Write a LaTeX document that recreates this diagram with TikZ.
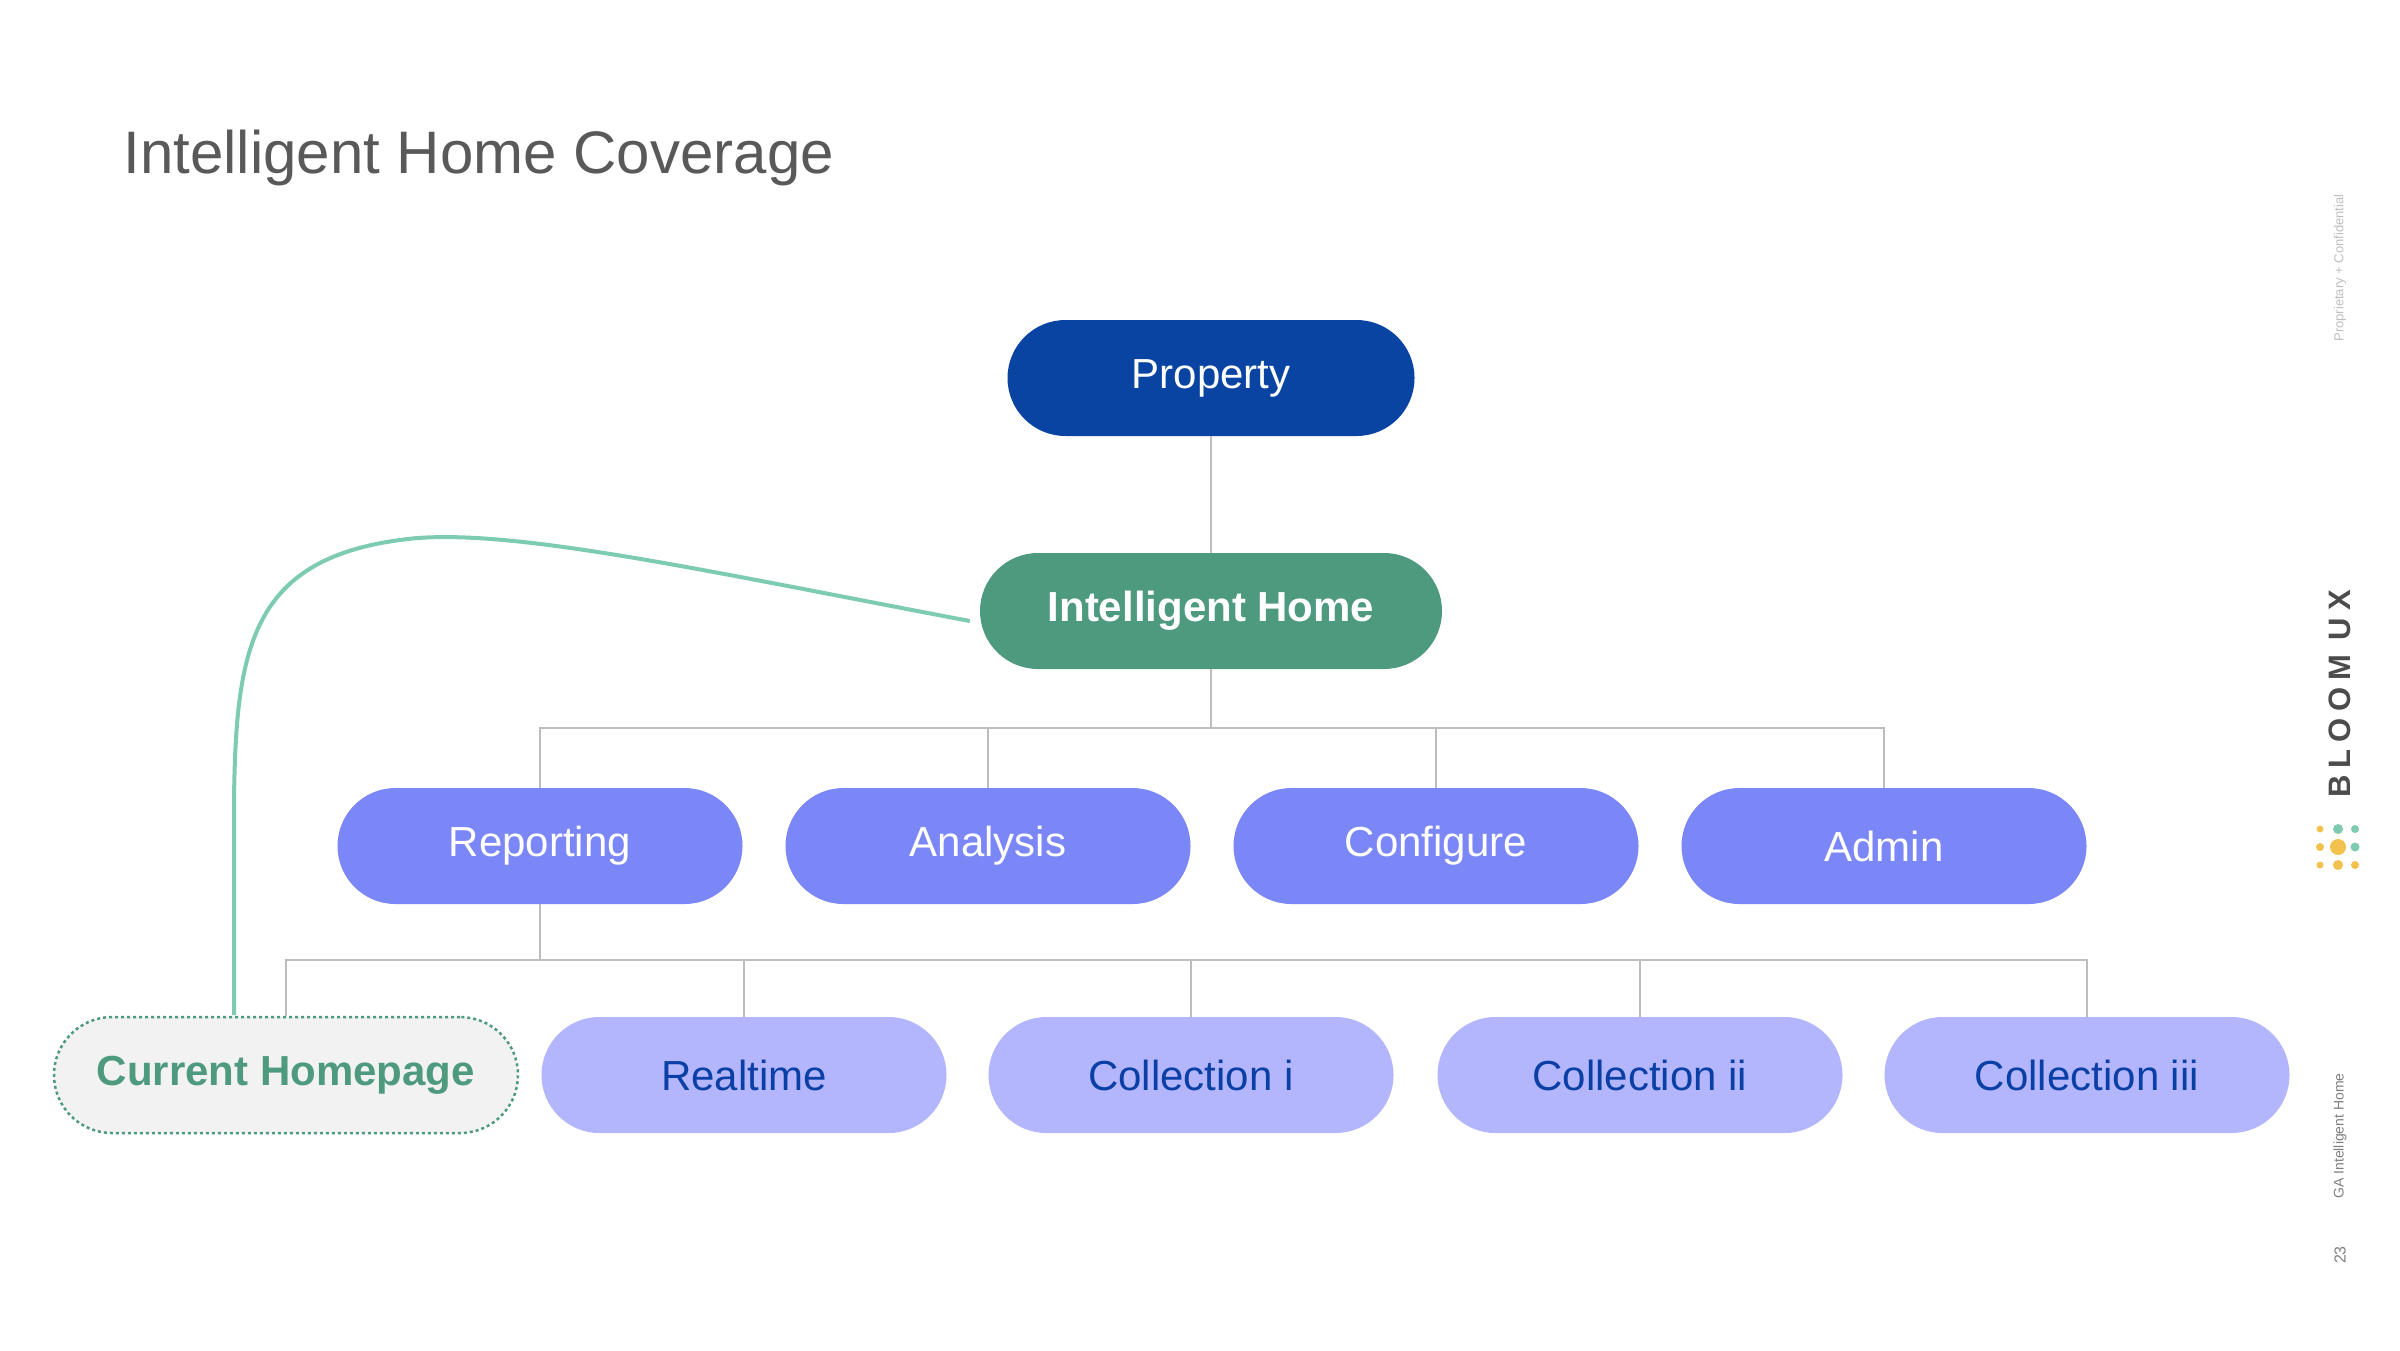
\documentclass[tikz,border=0pt]{standalone}
\usepackage{fontspec}
\setmainfont{Liberation Sans}
\begin{document}
\begin{tikzpicture}[x=1pt,y=-1pt,
 pill/.style={rounded corners=58pt,minimum height=116pt,inner sep=0pt,font=\fontsize{42}{50}\selectfont},
 top/.style={pill,fill=c1,text=white,minimum width=407pt},
 mid/.style={pill,fill=c2,text=white,minimum width=462pt,font=\fontsize{42}{50}\selectfont\bfseries},
 lvtwo/.style={pill,fill=c3,text=white,minimum width=405pt},
 lvthree/.style={pill,fill=c4,text=c5,minimum width=405pt},
 link/.style={draw=cl,line width=2.5pt}]
\definecolor{c1}{HTML}{0A44A3}
\definecolor{c2}{HTML}{4E9A7E}
\definecolor{c3}{HTML}{7B87F7}
\definecolor{c4}{HTML}{B3B6FC}
\definecolor{c5}{HTML}{0A3FA6}
\definecolor{cl}{HTML}{BDBDBD}
\definecolor{cg}{HTML}{7DCBB0}
\definecolor{cy}{HTML}{F2C14E}
\useasboundingbox (0,0) rectangle (2400,1350);
\fill[white] (0,0) rectangle (2400,1350);
\node[anchor=west,text=black!65,font=\fontsize{60}{70}\selectfont] (title) at (120,158) {Intelligent Home Coverage};
\node[top] (prop) at (1211,378) {Property};
\node[mid] (ih) at (1211,611) {Intelligent Home};
\node[lvtwo] (rep) at (540,846) {Reporting};
\node[lvtwo] (ana) at (988,846) {Analysis};
\node[lvtwo] (con) at (1436,846) {Configure};
\node[lvtwo] (adm) at (1884,846) {Admin};
\node[pill,minimum width=464pt,fill=black!5,draw=c2,dashed,line width=2.5pt,text=c2,font=\fontsize{42}{50}\selectfont\bfseries] (cur) at (286,1075) {Current Homepage};
\node[lvthree] (rt) at (744,1075) {Realtime};
\node[lvthree] (ci) at (1191,1075) {Collection i};
\node[lvthree] (cii) at (1640,1075) {Collection ii};
\node[lvthree] (ciii) at (2087,1075) {Collection iii};
\draw[link] (prop) -- (ih);
\coordinate (b1) at (1211,728);
\draw[link] (ih) -- (b1);
\draw[link] (rep.north) |- (b1) -| (adm.north);
\draw[link] (ana.north) -- (ana.north |- b1);
\draw[link] (con.north) -- (con.north |- b1);
\coordinate (b2) at (540,960);
\draw[link] (rep) -- (b2);
\draw[link] (cur.north) |- (b2) -| (ciii.north);
\foreach \n in {rt,ci,cii} \draw[link] (\n.north) -- (\n.north |- b2);
\draw[cg,line width=4pt] (ih.west) ++(-10,10) .. controls (700,570) and (500,525) .. (400,540) .. controls (250,560) and (236,650) .. (234,800) -- (234,1015);
% side
\node[rotate=90,text=black!25,font=\fontsize{13}{15}\selectfont] (conf) at (2340,268) {Proprietary + Confidential};
\node[rotate=90,text=black!70,font=\fontsize{31}{35}\selectfont\bfseries] (bloom) at (2340,694) {B\hspace{7pt}L\hspace{7pt}O\hspace{7pt}O\hspace{7pt}M\hspace{14pt}U\hspace{7pt}X};
\node[rotate=90,text=black!50,font=\fontsize{14}{16}\selectfont] (ga) at (2340,1136) {GA Intelligent Home};
\node[rotate=90,text=black!50,font=\fontsize{16}{18}\selectfont] (pg) at (2340,1255) {23};
\fill[cy] (2320,829) circle (3.5) (2320,847) circle (4) (2320,865) circle (3.5)
 (2338,847) circle (8) (2338,865) circle (5) (2355,865) circle (4);
\fill[cg] (2338,829) circle (5) (2355,829) circle (4) (2355,847) circle (4.5);
\end{tikzpicture}
\end{document}
